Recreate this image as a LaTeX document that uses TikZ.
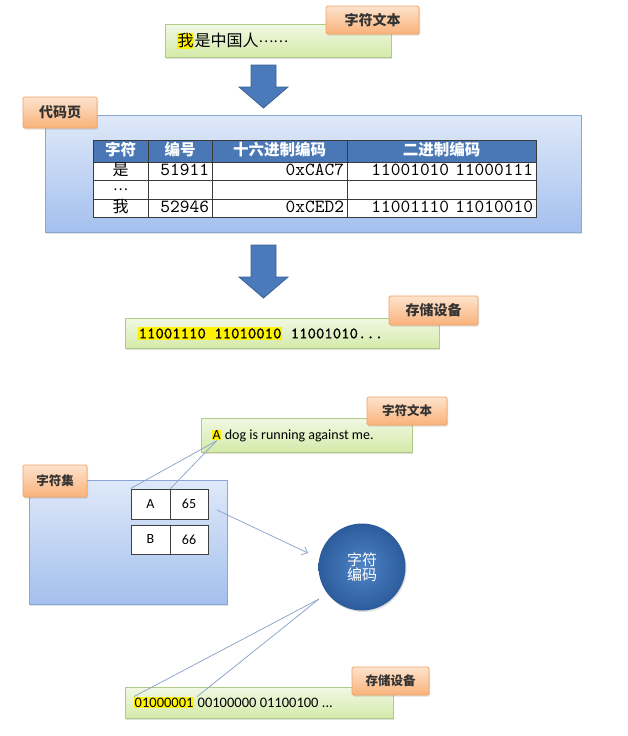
\documentclass[tikz,border=0pt]{standalone}
\usepackage{fontspec}
\setmainfont{Carlito}
\newfontfamily\cjk{Noto Sans CJK SC}
\newfontfamily\mono{lmmono10-regular.otf}
\newfontfamily\monob{lmmono10-regular.otf}[FakeBold=1.2]
\usetikzlibrary{shadows,arrows.meta}
\newcommand\setfs[1]{\fontsize{#1}{#1}\selectfont}
\definecolor{grtop}{HTML}{F1F8E4}
\definecolor{grbot}{HTML}{D4EAA9}
\definecolor{grbd}{HTML}{AFCB86}
\definecolor{ortop}{HTML}{FDE3CD}
\definecolor{orbot}{HTML}{F9B27A}
\definecolor{orbd}{HTML}{F2A468}
\definecolor{bltop}{HTML}{DFE9F9}
\definecolor{blbot}{HTML}{A4C0EE}
\definecolor{blbd}{HTML}{86A7D8}
\definecolor{arfill}{HTML}{4A7AB9}
\definecolor{arbd}{HTML}{3A6296}
\definecolor{hdr}{HTML}{4A78B6}
\definecolor{tline}{HTML}{3A3A3A}
\definecolor{thinc}{HTML}{8AA4C8}
\definecolor{encin}{HTML}{4F84C6}
\definecolor{encout}{HTML}{2C5C9C}
\tikzset{
  softshadow/.style={drop shadow={shadow xshift=1pt, shadow yshift=-1.5pt, opacity=0.25}},
  greenbox/.style={draw=grbd, line width=0.8pt, top color=grtop, bottom color=grbot, softshadow, inner sep=0pt},
  bluebox/.style={draw=blbd, line width=0.8pt, top color=bltop, bottom color=blbot, softshadow, inner sep=0pt},
  orlabel/.style={draw=orbd, line width=0.8pt, top color=ortop, bottom color=orbot, rounded corners=1.5pt, softshadow, inner sep=0pt, text=black!80},
  bigarrow/.style={fill=arfill, draw=arbd, line width=0.8pt, line join=miter},
  hl/.style={fill=yellow, inner xsep=0.5pt, inner ysep=1pt},
  tcell/.style={draw=tline, line width=0.8pt, fill=white, inner xsep=3pt, inner ysep=0pt, text height=11pt, text depth=3pt},
  hcell/.style={tcell, fill=hdr, text=white, align=center, font=\cjk\bfseries\setfs{15.5}},
  ccell/.style={draw=black!75, line width=0.9pt, fill=white, inner sep=0pt, font=\setfs{14}},
  thinl/.style={draw=thinc, line width=0.75pt},
  enc/.style={circle, shading=radial, inner color=encin, outer color=encout, softshadow, text=white, align=center, font=\cjk\setfs{15}, inner sep=0pt}
}
\begin{document}
\begin{tikzpicture}[x=1pt,y=-1pt]
\fill[white] (0,0) rectangle (628,736);
\useasboundingbox (0,0) rectangle (628,736);

% ---------- top part
\node[greenbox, minimum width=226pt, minimum height=33pt] (t1) at (278,40.5) {};
\node[orlabel, minimum width=93pt, minimum height=28pt, font=\cjk\bfseries\setfs{14}] (l1) at (372.5,20) {字符文本};
\node[hl, anchor=west, font=\cjk\setfs{16}] (w1) at (177,41) {我};
\node[anchor=base west, inner sep=0pt, font=\cjk\setfs{16}] (w2) at (w1.base east) {是中国人\raisebox{0.3em}{\setfs{14}……}};

\draw[bigarrow] (251,65) -- (276,65) -- (276,87) -- (288,87) -- (263.5,108) -- (239,87) -- (251,87) -- cycle;

\node[bluebox, minimum width=536pt, minimum height=117pt] (cp) at (313,173.5) {};
\node[orlabel, minimum width=74pt, minimum height=31pt, font=\cjk\bfseries\setfs{14}] (l2) at (60,112.5) {代码页};

% table header
\node[hcell, minimum width=55pt, minimum height=22pt, text width=49pt] (h1) at (120.5,151) {字符};
\node[hcell, minimum width=64pt, minimum height=22pt, text width=58pt] (h2) at (180,151) {编号};
\node[hcell, minimum width=135pt, minimum height=22pt, text width=129pt] (h3) at (279.5,151) {十六进制编码};
\node[hcell, minimum width=189pt, minimum height=22pt, text width=183pt] (h4) at (441.5,151) {二进制编码};
% row 1
\node[tcell, minimum width=55pt, minimum height=18pt, text width=49pt, align=center, font=\cjk\setfs{16}] (r11) at (120.5,171) {是};
\node[tcell, minimum width=64pt, minimum height=18pt, text width=58pt, align=right, font=\mono\setfs{18.5}] (r12) at (180,171) {51911};
\node[tcell, minimum width=135pt, minimum height=18pt, text width=129pt, align=right, font=\mono\setfs{18.5}] (r13) at (279.5,171) {0xCAC7};
\node[tcell, minimum width=189pt, minimum height=18pt, text width=183pt, align=right, font=\mono\setfs{18.5}] (r14) at (441.5,171) {11001010 11000111};
% row 2
\node[tcell, minimum width=55pt, minimum height=19pt, text width=49pt, align=center, font=\cjk\setfs{14}] (r21) at (120.5,189.5) {\raisebox{0.2em}{…}};
\node[tcell, minimum width=64pt, minimum height=19pt, text width=58pt] (r22) at (180,189.5) {};
\node[tcell, minimum width=135pt, minimum height=19pt, text width=129pt] (r23) at (279.5,189.5) {};
\node[tcell, minimum width=189pt, minimum height=19pt, text width=183pt] (r24) at (441.5,189.5) {};
% row 3
\node[tcell, minimum width=55pt, minimum height=18pt, text width=49pt, align=center, font=\cjk\setfs{16}] (r31) at (120.5,208) {我};
\node[tcell, minimum width=64pt, minimum height=18pt, text width=58pt, align=right, font=\mono\setfs{18.5}] (r32) at (180,208) {52946};
\node[tcell, minimum width=135pt, minimum height=18pt, text width=129pt, align=right, font=\mono\setfs{18.5}] (r33) at (279.5,208) {0xCED2};
\node[tcell, minimum width=189pt, minimum height=18pt, text width=183pt, align=right, font=\mono\setfs{18.5}] (r34) at (441.5,208) {11001110 11010010};

\draw[bigarrow] (251,245) -- (276,245) -- (276,277) -- (288,277) -- (263.5,298) -- (239,277) -- (251,277) -- cycle;

\node[greenbox, minimum width=314pt, minimum height=30pt] (s1) at (282,333) {};
\node[orlabel, minimum width=89pt, minimum height=29pt, font=\cjk\bfseries\setfs{14}] (l3) at (433.5,310.5) {存储设备};
\node[hl, anchor=west, font=\monob\setfs{16}] (b1) at (138,333.5) {11001110 11010010};
\node[anchor=base west, inner sep=0pt, font=\monob\setfs{16}] (b2) at (b1.base east) {\ 11001010...};

% ---------- bottom part
\node[greenbox, minimum width=211pt, minimum height=34pt] (t2) at (306.5,435) {};
\node[orlabel, minimum width=80pt, minimum height=28pt, font=\cjk\bfseries\setfs{12.5}] (l4) at (407,411) {字符文本};
\node[hl, anchor=west, font=\setfs{14}] (a1) at (212,435) {A};
\node[anchor=base west, inner sep=0pt, font=\setfs{14}] (a2) at (a1.base east) {\ dog is running against me.};

\node[bluebox, minimum width=198pt, minimum height=124pt] (cs) at (128,542) {};
\node[orlabel, minimum width=64pt, minimum height=32pt, font=\cjk\bfseries\setfs{12.5}] (l5) at (55,481) {字符集};
\node[ccell, minimum width=39pt, minimum height=30pt] (cA) at (150.5,504) {A};
\node[ccell, minimum width=38pt, minimum height=30pt] (c65) at (189,504) {65};
\node[ccell, minimum width=39pt, minimum height=29pt] (cB) at (150.5,539.5) {B};
\node[ccell, minimum width=38pt, minimum height=29pt] (c66) at (189,539.5) {66};

\draw[thinl] (a1.south) -- (cA.north west);
\draw[thinl] (a1.south) -- (cA.north east);

\node[enc, minimum size=87pt] (enc) at (362,567) {字符\\编码};

\coordinate (p1) at (217,510);
\coordinate (p2) at (308,553);
\draw[thinl, -{Straight Barb[length=5pt, width=9pt]}] (p1) -- (p2);

\node[greenbox, minimum width=268pt, minimum height=31pt] (s2) at (259,702.5) {};
\node[orlabel, minimum width=77pt, minimum height=28pt, font=\cjk\bfseries\setfs{12.5}] (l6) at (390.5,681) {存储设备};
\node[hl, anchor=west, font=\setfs{14.5}] (d1) at (134,702.5) {01000001};
\node[anchor=base west, inner sep=0pt, font=\setfs{14.5}] (d2) at (d1.base east) {\ 00100000 01100100 ...};

\coordinate (q) at (319,599);
\draw[thinl] (q) -- (d1.north west);
\draw[thinl] (q) -- ([xshift=3pt]d1.north east);
\end{tikzpicture}
\end{document}
